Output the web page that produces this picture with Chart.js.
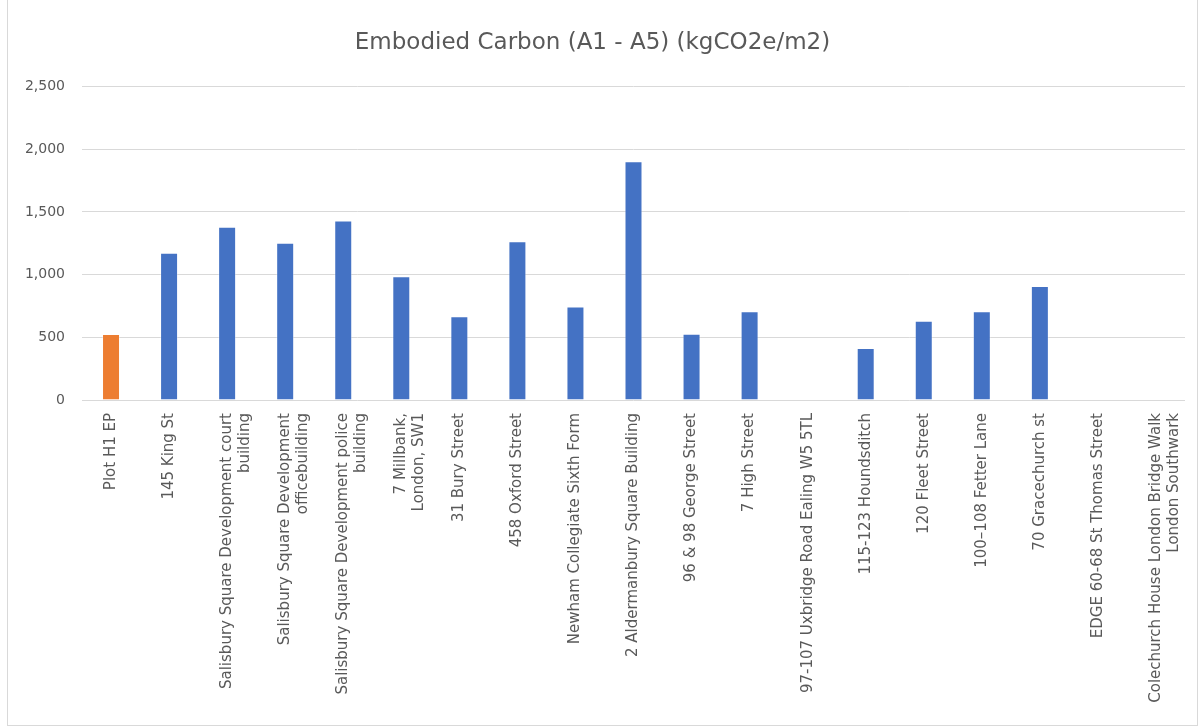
<!DOCTYPE html>
<html lang="en">
<head>
  <meta charset="UTF-8">
  <title>Embodied Carbon (A1 - A5)</title>
  <script src="https://cdn.jsdelivr.net/npm/chart.js"></script>
  <style>
    html, body { margin: 0; padding: 0; background: #fff; }
    #frame { position: absolute; left: 7px; top: -1px; width: 1189px; height: 725px; border: 1px solid #d9d9d9; }
    #wrap { position: absolute; left: 0; top: 0; width: 1203px; height: 727px; }
  </style>
</head>
<body>
  <div id="frame"></div>
  <div id="wrap"><canvas id="chartCanvas"></canvas></div>
  <script>
    // chart data
    const buildings = [
      'Plot H1 EP',
      '145 King St',
      ['Salisbury Square Development court', 'building'],
      ['Salisbury Square Development', 'officebuilding'],
      ['Salisbury Square Development police', 'building'],
      ['7 Millbank,', 'London, SW1'],
      '31 Bury Street',
      '458 Oxford Street',
      'Newham Collegiate Sixth Form',
      '2 Aldermanbury Square Building',
      '96 & 98 George Street',
      '7 High Street',
      '97-107 Uxbridge Road Ealing W5 5TL',
      '115-123 Houndsditch',
      '120 Fleet Street',
      '100–108 Fetter Lane',
      '70 Gracechurch st',
      'EDGE 60-68 St Thomas Street',
      ['Colechurch House London Bridge Walk', 'London Southwark']
    ];
    const carbon = [527, 1175, 1383, 1255, 1431, 987, 668, 1266, 745, 1905, 529, 708, null, 415, 633, 708, 910, null, null];
    const highlighted = 'Plot H1 EP';
    const yTicks = [0, 500, 1000, 1500, 2000, 2500];

    const textGrey = '#595959';
    const ctx = document.getElementById('chartCanvas').getContext('2d');
    new Chart(ctx, {
      type: 'bar',
      data: {
        labels: buildings,
        datasets: [{
          label: 'Embodied Carbon',
          data: carbon,
          backgroundColor: buildings.map(b => b === highlighted ? '#ED7D31' : '#4472C4'),
          borderColor: 'rgba(255,255,255,0.35)',
          borderWidth: 1,
          categoryPercentage: 1,
          barPercentage: 0.31
        }]
      },
      options: {
        responsive: true,
        maintainAspectRatio: false,
        animation: false,
        layout: { padding: { left: 0, right: 18, top: 0, bottom: 0 } },
        plugins: {
          legend: { display: false },
          tooltip: { enabled: false },
          title: {
            display: true,
            text: 'Embodied Carbon (A1 - A5) (kgCO2e/m2)',
            color: textGrey,
            font: { family: 'DejaVu Sans', size: 23, weight: 'normal' },
            padding: { top: 29, bottom: 30 }
          }
        },
        scales: {
          x: {
            grid: { display: false },
            border: { display: false },
            ticks: {
              color: textGrey,
              font: { family: 'DejaVu Sans', size: 15 },
              minRotation: 90,
              maxRotation: 90,
              autoSkip: false,
              padding: 5
            },
            afterFit: s => { s.height = 327; }
          },
          y: {
            min: 0,
            max: 2500,
            afterBuildTicks: s => { s.ticks = yTicks.map(v => ({ value: v })); },
            grid: { color: '#d9d9d9', drawTicks: false },
            border: { display: false },
            ticks: {
              color: textGrey,
              font: { family: 'DejaVu Sans', size: 14 },
              padding: 17,
              callback: v => v.toLocaleString('en-US')
            },
            afterFit: s => { s.width = 82; }
          }
        }
      }
    });
  </script>
</body>
</html>
